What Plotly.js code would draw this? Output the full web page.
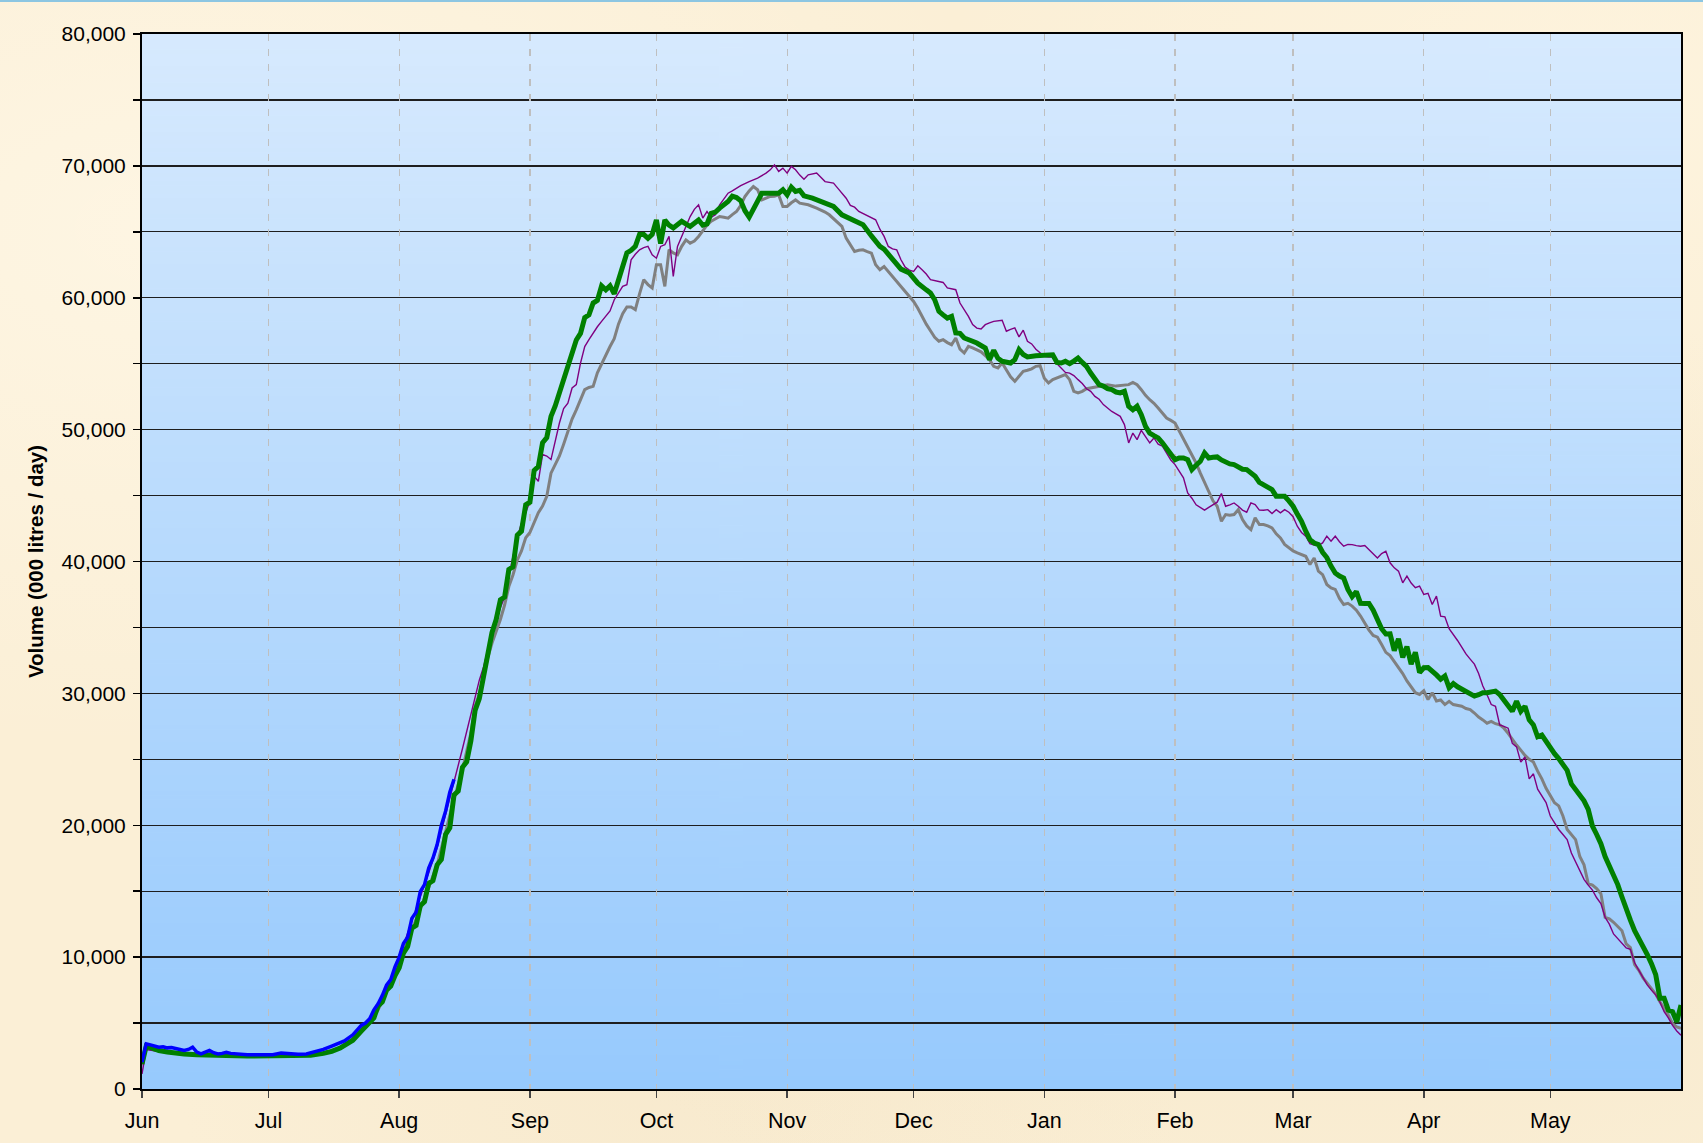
<!DOCTYPE html>
<html>
<head>
<meta charset="utf-8">
<script src="https://cdn.plot.ly/plotly-3.0.1.min.js"></script>
<style>
  html, body { margin:0; padding:0; }
  body {
    width:1703px; height:1143px; overflow:hidden;
    background-color:#FBEFD6;
    background-image:
      radial-gradient(ellipse at 10% 20%, rgba(255,248,232,0.7), rgba(255,248,232,0) 40%),
      radial-gradient(ellipse at 80% 70%, rgba(240,224,190,0.5), rgba(240,224,190,0) 45%),
      radial-gradient(ellipse at 40% 90%, rgba(245,230,200,0.6), rgba(245,230,200,0) 35%),
      radial-gradient(ellipse at 95% 10%, rgba(255,246,226,0.6), rgba(255,246,226,0) 30%);
    border-top:2px solid #8CC6E2;
    box-sizing:border-box;
  }
  #chart { width:1703px; height:1141px; }
</style>
</head>
<body>
<div id="chart"></div>
<script>
// ---- Data (day offset from 1 June, value in 000 litres / day) ----
const monthTicks = ['2009-06-01','2009-07-01','2009-08-01','2009-09-01','2009-10-01','2009-11-01','2009-12-01','2010-01-01','2010-02-01','2010-03-01','2010-04-01','2010-05-01'];

const grayDays = [0,1,3,5,8,12,16,20,25,30,35,40,43,46,48,50,52,54,56,58,60,62,64,66,68,70,72,74,76,78,79,80,81,82,83,84,85,86,87,88,89,90,91,92,93,94,95,96,97,98,99,100,101,102,103,104,105,106,107,108,109,110,111,112,113,114,115,116,117,118,119,120,121,122,123,124,125,126,127,128,129,130,131,132,133,134,135,136,137,138,139,140,141,142,143,144,145,146,147,148,149,150,151,152,153,154,155,156,157,158,160,162,163,164,165,166,167,168,169,170,171,172,173,174,175,176,177,178,179,180,181,182,183,184,185,186,187,188,189,190,191,192,193,194,195,196,197,198,199,200,201,202,203,204,205,206,207,208,209,210,211,212,213,214,215,216,217,218,219,220,221,222,223,224,225,227,229,231,233,234,235,236,237,238,239,240,241,242,243,244,245,246,247,248,249,250,251,252,253,254,255,256,257,258,259,260,261,262,263,264,265,266,267,268,269,270,271,272,273,274,275,276,277,278,279,280,281,282,283,284,285,286,287,288,289,290,291,292,293,294,295,296,297,298,299,300,301,302,303,304,305,306,307,308,309,310,311,312,313,314,315,316,317,318,319,320,321,322,323,324,325,326,327,328,329,330,331,332,333,334,335,336,337,338,339,340,341,342,343,344,345,346,347,348,349,350,351,352,353,354,355,356,357,358,359,360,361,362,363,364,365];
const grayVals = [1800,3100,2950,2850,2700,2620,2560,2540,2500,2480,2520,2560,2700,3000,3300,3650,4300,5000,6000,7300,8700,10400,12000,13700,15300,17000,19500,22000,24200,27000,29000,30000,31300,32700,33800,34700,35600,36700,38100,39000,40100,40800,41800,42200,43000,43700,44200,44950,46700,47350,48000,48900,49800,50800,51500,52300,53030,53200,53280,54300,55000,55700,56300,56900,58000,58800,59300,59300,59100,60300,61370,61000,60740,62500,62500,60860,63640,63400,63260,63900,64390,64140,64300,64650,65100,65500,65800,66000,66160,66100,66040,66300,66540,67000,67680,68100,68440,68190,67420,67550,67680,67700,67800,66920,66920,67200,67420,67170,67100,67050,66790,66500,66290,66000,65660,65410,64520,64000,63510,63600,63630,63500,63380,62500,62120,62370,62000,61610,61200,60860,60500,60100,59720,59200,58590,58000,57500,57000,56700,56820,56600,56440,56950,56100,55810,56310,56200,56060,55900,55600,55300,54800,54670,55050,54500,54000,53660,54000,54420,54500,54610,54800,54850,53900,53540,53790,53900,54040,54170,53790,52900,52780,52900,53100,53160,53280,53410,53300,53350,53410,53580,53400,53030,52600,52270,52000,51640,51300,50880,50700,50500,49900,49300,48740,48100,47470,46700,46000,45330,44600,44190,43050,43560,43500,43560,43930,43180,42700,42420,43310,42800,42800,42700,42550,42100,41790,41300,41030,40800,40650,40500,40400,39770,40270,39270,39000,38260,38000,37880,37200,36740,36830,36620,36310,35860,35290,34800,34390,34260,33700,33110,32860,32400,31960,31500,30940,30500,30050,29920,30200,29530,30050,29420,29500,29150,29400,29150,29100,29020,28850,28770,28510,28200,27990,27740,27870,27700,27610,27360,26970,26500,26080,25700,25300,25000,24790,24100,23520,22800,22230,21700,21470,20700,19680,19300,18910,17630,17000,15580,15460,15200,14810,13020,12900,12640,12300,12000,11000,10720,9440,9000,8420,8000,7650,7200,6620,6100,5600,4960,4710,4600];

const purpleDays = [0,1,3,5,8,12,16,20,25,30,35,40,43,46,48,50,52,54,56,58,60,62,64,66,68,70,72,74,76,78,80,81,82,83,84,85,86,87,88,89,90,91,92,93,94,95,96,97,98,99,100,101,102,103,104,105,106,107,108,109,110,111,112,113,114,115,116,117,118,119,120,121,122,123,124,125,126,127,128,129,130,131,132,133,134,135,136,137,138,139,140,141,142,144,146,148,149,150,151,152,153,154,155,156,157,158,160,162,164,165,166,167,168,169,170,172,174,175,176,177,178,179,180,181,182,183,184,185,186,187,188,190,191,193,194,195,196,197,198,199,200,201,202,204,205,206,207,208,209,210,211,212,213,214,215,216,217,218,219,220,221,222,223,224,225,226,227,228,229,230,231,232,233,234,235,236,237,238,239,240,241,242,243,244,245,246,247,248,249,250,251,252,253,254,255,256,257,258,259,260,261,262,263,264,265,266,267,268,269,270,271,272,273,274,275,276,277,278,279,280,281,282,283,284,285,286,287,288,289,290,291,292,293,294,295,296,297,298,299,300,301,302,303,304,305,306,307,308,309,310,311,312,313,314,315,316,317,318,319,320,321,322,323,324,325,326,327,328,329,330,331,332,333,334,335,336,337,338,339,340,341,342,343,344,345,346,347,348,349,350,351,352,353,354,355,356,357,358,359,360,361,362,363,364,365];
const purpleVals = [1140,3000,2900,2800,2700,2650,2600,2560,2550,2520,2560,2600,2750,3050,3400,3800,4500,5200,6300,7700,9100,10900,12700,14600,16400,18300,20700,23300,25800,28400,31000,32000,33400,34600,35500,36500,37300,39000,40400,41800,42930,43700,44570,46460,46080,48110,48000,47730,49240,50500,51600,52000,53160,53410,55050,56300,56820,57330,57800,58210,58600,59000,59850,60400,60860,60990,62880,63300,63640,63800,63890,63260,63000,63890,64020,64650,61620,63890,64650,65500,66160,66700,67050,66040,66540,66100,66300,67050,67500,67930,68100,68310,68500,68810,69070,69450,69700,70080,69580,69830,69450,69960,69700,69300,68990,69320,69450,68810,68690,68310,67900,67550,67000,66870,66540,66210,65910,65200,64650,63890,63700,63630,62880,62320,62100,62000,62420,62120,61800,61370,61300,61160,60740,60610,59600,59100,58590,57960,57700,57640,57960,58100,58210,58290,57460,57600,57710,57030,57540,56700,56500,56100,55860,55560,55500,55500,55000,54670,54340,54290,54100,53790,53500,53100,52900,52520,52300,51900,51640,51380,51200,51010,50380,48990,49740,49240,49950,49500,48990,49370,48900,48740,48200,47700,47350,46800,46340,45200,44800,44300,44070,43890,44100,44320,44500,45150,44190,44300,44440,44190,43900,43740,44440,44320,43900,43890,43930,43640,43930,43690,43930,43740,43400,42680,42200,41920,41360,41250,41210,41410,41920,41540,41920,41500,41160,41300,41280,41200,41160,41210,40900,40650,40270,40600,40780,39900,39520,39270,38380,38890,38370,38010,38130,37500,37590,36740,37380,35860,35800,34900,34500,34010,33500,32990,32600,32220,31500,30560,29900,29150,29020,27610,27500,27360,26210,25940,24790,25170,23520,23900,22740,22200,21720,20700,20200,19680,19300,18910,17890,17200,16480,15900,15460,15080,14500,14060,13020,12500,11760,11400,10990,10700,10600,9570,9000,8420,7900,7500,7140,6600,5860,5400,4830,4400,4070];

const greenDays = [0,1,2,3,4,6,8,10,13,16,20,25,30,35,40,43,45,47,49,50,52,54,55,56,57,58,59,60,61,62,63,64,65,66,67,68,69,70,71,72,73,74,75,76,77,78,79,80,81,82,83,84,85,86,87,88,89,90,91,92,93,94,95,96,97,98,99,100,101,102,103,104,105,106,107,108,109,110,111,112,113,114,115,116,117,118,119,120,121,122,123,124,125,126,128,130,131,132,133,134,135,136,137,138,139,140,141,142,143,144,145,146,147,149,151,152,153,154,155,156,157,159,161,163,164,166,168,170,171,173,174,175,176,177,178,179,180,182,183,184,186,187,188,189,190,191,192,193,194,195,197,198,200,201,202,203,204,205,206,207,208,209,210,212,214,216,217,218,219,220,221,222,223,224,225,226,227,228,229,230,231,232,233,234,235,236,237,238,239,240,241,242,243,244,245,246,247,248,249,250,251,252,253,254,255,256,257,258,259,260,261,262,263,264,265,266,267,268,269,270,271,272,273,274,275,276,277,278,279,280,281,282,283,284,285,286,287,288,289,290,291,292,293,294,295,296,297,298,299,300,301,302,303,304,305,306,307,308,309,310,311,312,313,314,315,316,317,318,319,320,321,322,323,324,325,326,327,328,329,330,331,332,333,334,335,336,337,338,339,340,341,342,343,344,345,346,347,348,349,350,351,352,353,354,355,356,357,358,359,360,361,362,363,364,365];
const greenVals = [1900,3250,3150,3000,2920,2800,2700,2660,2600,2540,2540,2500,2500,2540,2560,2700,2850,3100,3450,3700,4400,5100,5400,6300,6600,7500,7800,8600,9200,10300,10800,12200,12400,13900,14200,15600,15800,17000,17400,19300,19800,22300,22600,24400,24800,26400,28700,29600,31200,32700,34600,35600,37100,37300,39400,39600,42000,42300,44300,44500,46900,47200,49000,49400,51000,51800,52800,53700,54800,55600,56800,57300,58500,58700,59600,59800,60900,60600,60900,60300,61300,62200,63400,63600,63900,64800,64800,64500,64800,65900,64100,65900,65500,65300,65800,65400,65700,65900,65500,65600,66400,66500,66800,67050,67300,67700,67600,67350,66600,66110,66700,67300,67930,67930,67930,68190,67800,68390,68060,68150,67730,67550,67300,67000,66920,66290,65950,65700,65530,64690,64300,63900,63680,63300,63000,62500,62170,61870,61500,61110,60600,60360,59850,58970,58700,58460,58590,57330,57300,56950,56700,56570,56190,55300,56010,55400,55180,55100,55050,55300,56060,55700,55510,55600,55650,55680,55100,55050,55180,55000,55200,55430,55100,54800,54290,53900,53410,53300,53100,53030,52850,52780,52900,51770,51510,51770,51130,50250,49740,49550,49370,49000,48610,48200,47720,47850,47850,47720,46970,47300,47600,48230,47850,47900,47930,47700,47520,47400,47350,47200,47000,46970,46700,46460,46000,45830,45600,45450,44950,44950,44950,44600,44190,43600,43050,42300,41660,41400,41280,40700,40300,39650,39130,38900,38740,37880,37330,37720,36830,36820,36820,36310,35600,34900,34500,34520,33240,34140,32730,33550,32220,33110,31580,31940,31960,31710,31400,31070,31320,30430,30740,30500,30300,30100,29920,29790,29900,30050,30050,30100,30170,29920,29530,29100,28640,29400,28640,29020,27990,27610,26710,26840,26330,25800,25430,25050,24600,24160,23130,22700,22230,21850,21210,19930,19300,18600,17630,16900,16300,15500,14560,13800,12800,12000,11400,11000,10200,9500,8670,6880,6880,5990,5860,5090,6370];

const blueDays = [0,1,2,3,4,5,6,7,8,9,10,11,12,13,14,15,16,17,18,19,20,21,22,23,25,28,31,33,35,37,39,41,43,45,47,48,50,51,52,53,54,55,56,57,58,59,60,61,62,63,64,65,66,67,68,69,70,71,72,73,74];
const blueVals = [2030,3430,3350,3250,3170,3200,3120,3150,3100,3000,2920,3000,3170,2800,2660,2800,2920,2750,2660,2700,2790,2700,2660,2640,2590,2600,2590,2720,2660,2640,2660,2840,3000,3250,3500,3650,4110,4500,4820,5000,5330,6000,6470,7100,7870,8300,9260,10000,11040,11500,12940,13400,14970,15500,16750,17500,18530,20000,21070,22500,23480];

// ---- helpers ----
const BASE = Date.UTC(2009, 5, 1);
function toDates(days) {
  return days.map(d => new Date(BASE + d * 86400000).toISOString().slice(0, 10));
}

// gradient image for plot background
function gradientURL() {
  const c = document.createElement('canvas');
  c.width = 4; c.height = 512;
  const g = c.getContext('2d');
  const grd = g.createLinearGradient(0, 0, 0, 512);
  grd.addColorStop(0, '#D7EAFE');
  grd.addColorStop(1, '#97CAFD');
  g.fillStyle = grd;
  g.fillRect(0, 0, 4, 512);
  return c.toDataURL();
}

const FONT = 'Liberation Sans, Arial, sans-serif';

const traces = [
  { x: toDates(grayDays), y: grayVals, type: 'scatter', mode: 'lines',
    line: { color: '#808080', width: 3 }, name: 'Grey', hoverinfo: 'skip' },
  { x: toDates(purpleDays), y: purpleVals, type: 'scatter', mode: 'lines',
    line: { color: '#800080', width: 1.4 }, name: 'Purple', hoverinfo: 'skip' },
  { x: toDates(greenDays), y: greenVals, type: 'scatter', mode: 'lines',
    line: { color: '#008000', width: 5 }, name: 'Green', hoverinfo: 'skip' },
  { x: toDates(blueDays), y: blueVals, type: 'scatter', mode: 'lines',
    line: { color: '#0000FF', width: 3.5 }, name: 'Blue', hoverinfo: 'skip' }
];

const layout = {
  width: 1703, height: 1141,
  margin: { l: 142, r: 22, t: 32, b: 54, pad: 0 },
  paper_bgcolor: 'rgba(0,0,0,0)',
  plot_bgcolor: 'rgba(0,0,0,0)',
  showlegend: false,
  font: { family: FONT, size: 21, color: '#000' },
  images: [{
    source: gradientURL(), xref: 'paper', yref: 'paper',
    x: 0, y: 1, sizex: 1, sizey: 1, sizing: 'stretch',
    xanchor: 'left', yanchor: 'top', layer: 'below'
  }],
  xaxis: {
    type: 'date',
    range: ['2009-06-01', '2010-06-01'],
    tickmode: 'array',
    tickvals: monthTicks,
    tickformat: '%b',
    ticks: 'outside', ticklen: 7, tickwidth: 1.5, tickcolor: '#444',
    ticklabelstandoff: 4,
    showgrid: true, gridcolor: '#BFBFBF', gridwidth: 1.2, griddash: '7px,8px',
    showline: true, linecolor: '#000', linewidth: 2, mirror: true,
    zeroline: false,
    tickfont: { family: FONT, size: 21.5, color: '#000' },
    fixedrange: true
  },
  yaxis: {
    range: [0, 80000],
    tickmode: 'linear', tick0: 0, dtick: 10000,
    tickformat: ',d',
    ticks: 'outside', ticklen: 7, tickwidth: 1.5, tickcolor: '#000',
    ticklabelstandoff: 3,
    showgrid: true, gridcolor: '#1E1E1E', gridwidth: 1.3,
    minor: { tickmode: 'linear', tick0: 0, dtick: 5000, ticks: 'outside', ticklen: 7,
             tickwidth: 1.5, tickcolor: '#000', showgrid: true, gridcolor: '#1E1E1E', gridwidth: 1.3 },
    showline: true, linecolor: '#000', linewidth: 2, mirror: true,
    zeroline: false,
    tickfont: { family: FONT, size: 21, color: '#000' },
    title: { text: 'Volume (000 litres / day)', font: { family: FONT, size: 20.5, color: '#000', weight: 'bold' }, standoff: 12 },
    fixedrange: true
  }
};

Plotly.newPlot('chart', traces, layout, { staticPlot: true, displayModeBar: false });
</script>
</body>
</html>
